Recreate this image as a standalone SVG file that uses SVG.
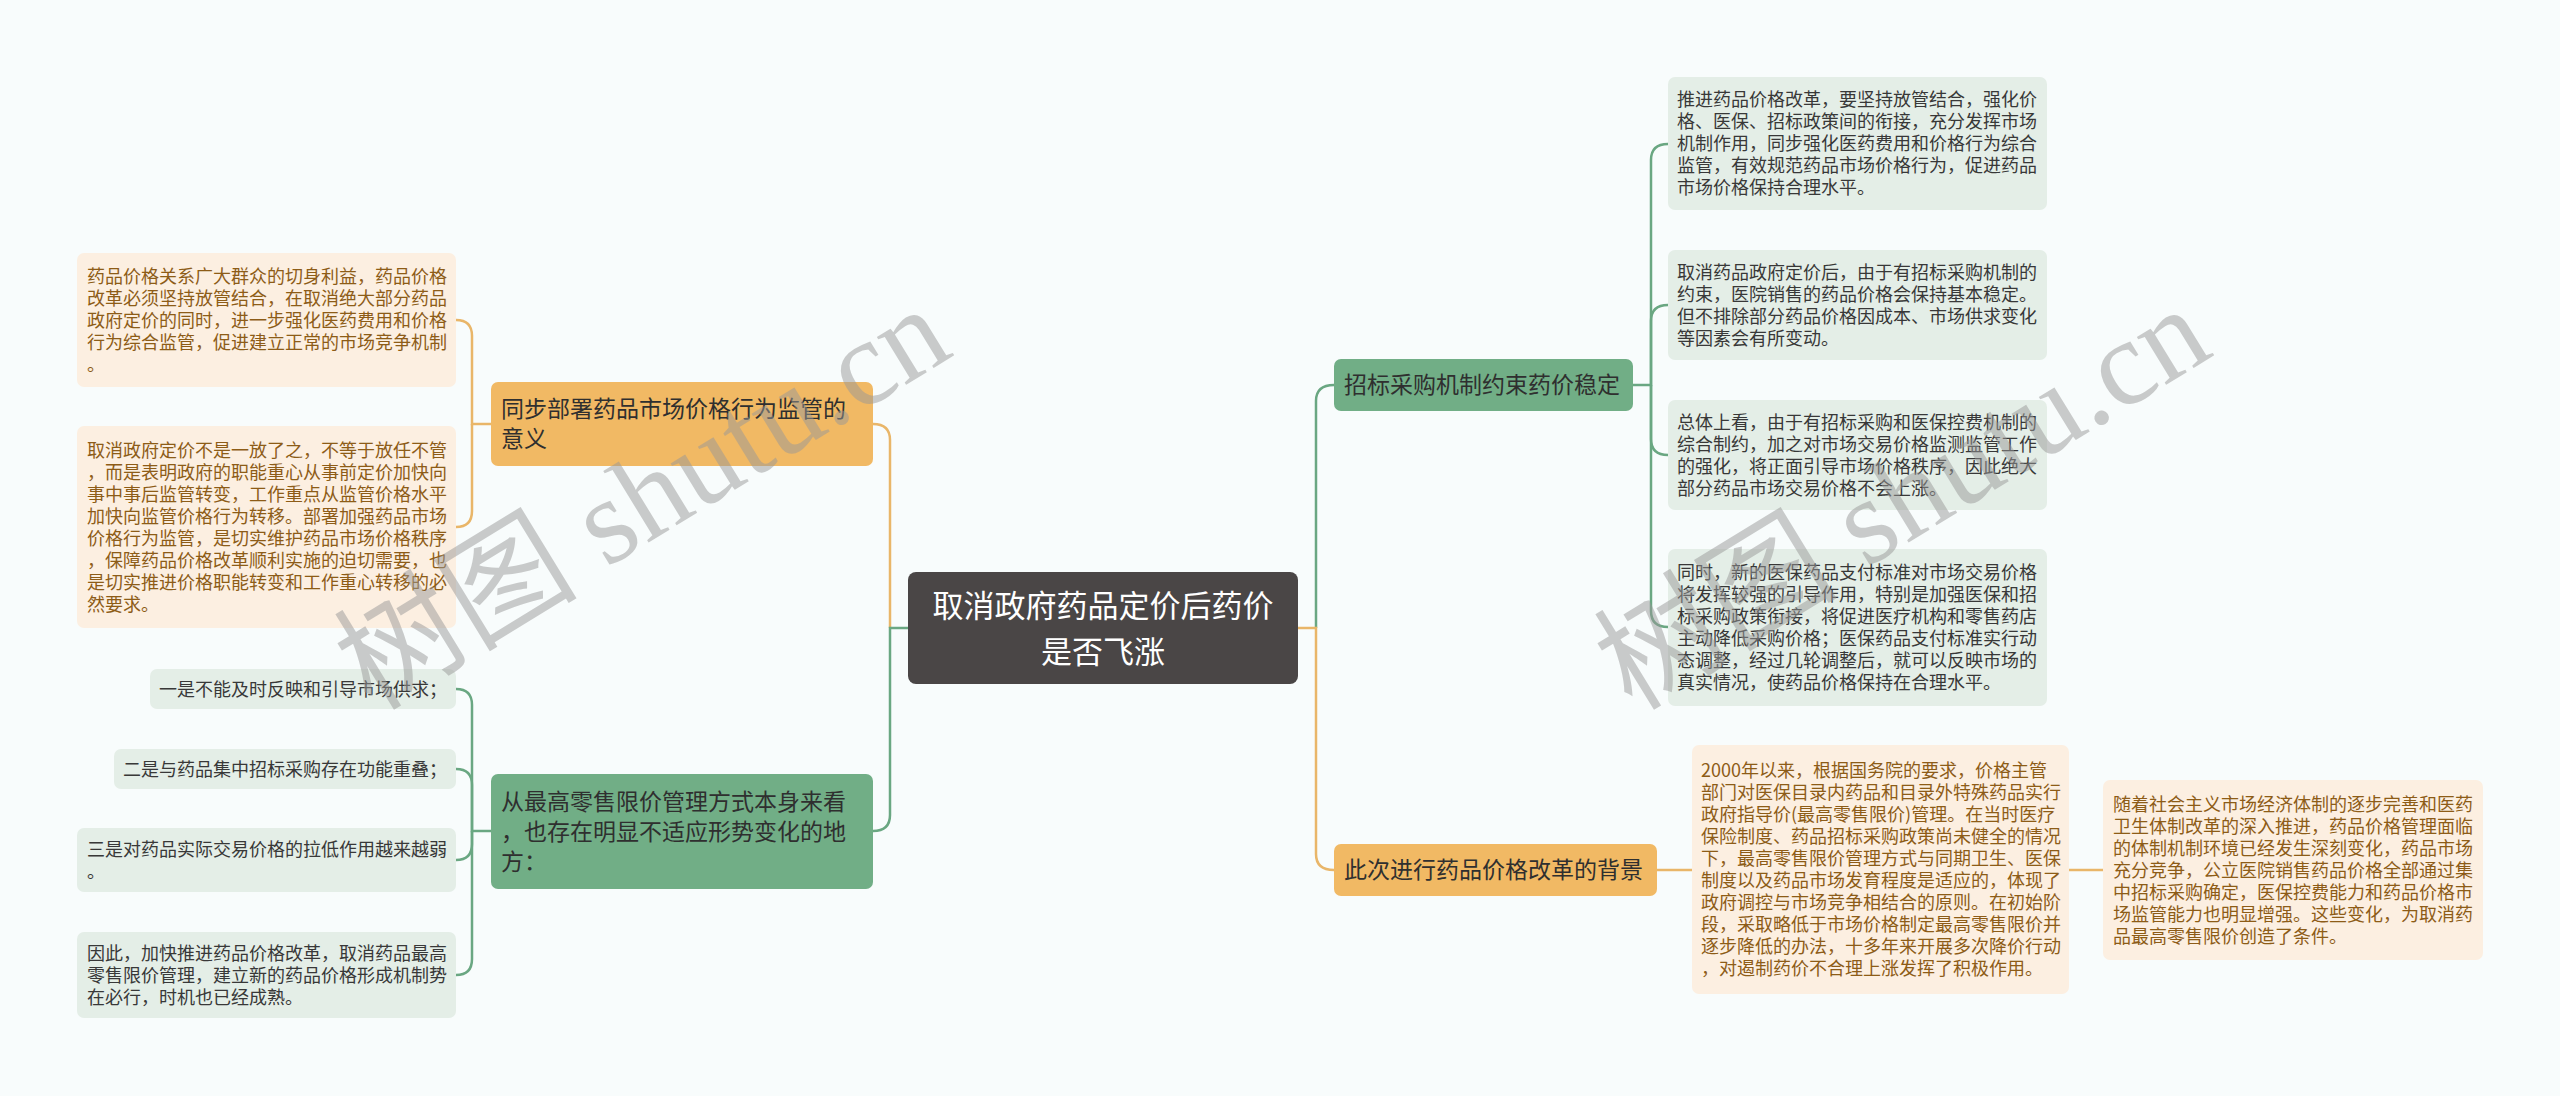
<svg xmlns="http://www.w3.org/2000/svg" width="2560" height="1096" viewBox="0 0 2560 1096">
<style>
.bg{fill:#f8fcfc}
.lo{fill:#fcefe1}
.lg{fill:#e4eee7}
.no{fill:#f1b964}
.ng{fill:#71ae86}
.nc{fill:#4a4646}
.t{font-family:"Noto Sans CJK SC","Noto Sans",sans-serif}
.to{font-size:18px;fill:#8d5c17}
.tg{font-size:18px;fill:#383838}
.tm{font-size:23px;fill:#2f2f2f}
.tc{font-size:31px;fill:#ffffff}
.co{fill:none;stroke:#e9b669;stroke-width:2.5}
.cg{fill:none;stroke:#6aa782;stroke-width:2.5}
.wm{font-family:"Liberation Serif","Noto Sans CJK SC",serif;font-size:122px;fill:#999999;opacity:0.5}
</style>
<rect class="bg" x="0" y="0" width="2560" height="1096"/>
<g id="connectors">
<path class="co" d="M890 628 V440 Q890 424 873 424"/>
<path class="cg" d="M908 628 H890 V815 Q890 831 873 831"/>
<path class="cg" d="M1316 628 V401 Q1316 385 1334 385"/>
<path class="co" d="M1298 628 H1316 V854 Q1316 870 1334 870"/>
<path class="co" d="M491 424 H472 V336 Q472 320 456 320"/>
<path class="co" d="M472 424 V511 Q472 527 456 527"/>
<path class="cg" d="M491 831 H472 V705 Q472 689 456 689"/>
<path class="cg" d="M472 831 V785 Q472 769 456 769"/>
<path class="cg" d="M472 831 V844 Q472 860 456 860"/>
<path class="cg" d="M472 831 V959 Q472 975 456 975"/>
<path class="cg" d="M1633 385 H1651 V160 Q1651 144 1668 144"/>
<path class="cg" d="M1651 385 V321 Q1651 305 1668 305"/>
<path class="cg" d="M1651 385 V439 Q1651 455 1668 455"/>
<path class="cg" d="M1651 385 V611 Q1651 627 1668 627"/>
<path class="co" d="M1657 870 H1692"/>
<path class="co" d="M2069 870 H2103"/>
</g>
<g id="center">
<rect class="nc" x="908" y="572" width="390" height="112" rx="8"/>
<text class="t tc" text-anchor="middle" x="1103" y="617">取消政府药品定价后药价</text>
<text class="t tc" text-anchor="middle" x="1103" y="663">是否飞涨</text>
</g>
<g id="node-left-orange">
<rect class="no" x="491" y="382" width="382" height="84" rx="7"/>
<text class="t tm" x="501" y="417">同步部署药品市场价格行为监管的<tspan x="501" dy="30">意义</tspan></text>
</g>
<g id="node-left-green">
<rect class="ng" x="491" y="774" width="382" height="115" rx="7"/>
<text class="t tm" x="501" y="810">从最高零售限价管理方式本身来看<tspan x="501" dy="30">，也存在明显不适应形势变化的地</tspan><tspan x="501" dy="30">方：</tspan></text>
</g>
<g id="node-right-green">
<rect class="ng" x="1334" y="359" width="299" height="52" rx="7"/>
<text class="t tm" x="1344" y="393">招标采购机制约束药价稳定</text>
</g>
<g id="node-right-orange">
<rect class="no" x="1334" y="844" width="323" height="52" rx="7"/>
<text class="t tm" x="1344" y="878">此次进行药品价格改革的背景</text>
</g>
<g id="leaf-a">
<rect class="lo" x="77" y="253" width="379" height="134" rx="7"/>
<text class="t to" x="87" y="282.5">药品价格关系广大群众的切身利益，药品价格<tspan x="87" dy="22">改革必须坚持放管结合，在取消绝大部分药品</tspan><tspan x="87" dy="22">政府定价的同时，进一步强化医药费用和价格</tspan><tspan x="87" dy="22">行为综合监管，促进建立正常的市场竞争机制</tspan><tspan x="87" dy="22">。</tspan></text>
</g>
<g id="leaf-b">
<rect class="lo" x="77" y="426" width="379" height="202" rx="7"/>
<text class="t to" x="87" y="456.5">取消政府定价不是一放了之，不等于放任不管<tspan x="87" dy="22">，而是表明政府的职能重心从事前定价加快向</tspan><tspan x="87" dy="22">事中事后监管转变，工作重点从监管价格水平</tspan><tspan x="87" dy="22">加快向监管价格行为转移。部署加强药品市场</tspan><tspan x="87" dy="22">价格行为监管，是切实维护药品市场价格秩序</tspan><tspan x="87" dy="22">，保障药品价格改革顺利实施的迫切需要，也</tspan><tspan x="87" dy="22">是切实推进价格职能转变和工作重心转移的必</tspan><tspan x="87" dy="22">然要求。</tspan></text>
</g>
<g id="leaf-c">
<rect class="lg" x="150" y="669" width="306" height="40" rx="7"/>
<text class="t tg" x="159" y="695.5">一是不能及时反映和引导市场供求；</text>
</g>
<g id="leaf-d">
<rect class="lg" x="114" y="749" width="342" height="40" rx="7"/>
<text class="t tg" x="123" y="775.5">二是与药品集中招标采购存在功能重叠；</text>
</g>
<g id="leaf-e">
<rect class="lg" x="77" y="828" width="379" height="64" rx="7"/>
<text class="t tg" x="87" y="855.5">三是对药品实际交易价格的拉低作用越来越弱<tspan x="87" dy="22">。</tspan></text>
</g>
<g id="leaf-f">
<rect class="lg" x="77" y="932" width="379" height="86" rx="7"/>
<text class="t tg" x="87" y="959.5">因此，加快推进药品价格改革，取消药品最高<tspan x="87" dy="22">零售限价管理，建立新的药品价格形成机制势</tspan><tspan x="87" dy="22">在必行，时机也已经成熟。</tspan></text>
</g>
<g id="leaf-r1">
<rect class="lg" x="1668" y="77" width="379" height="133" rx="7"/>
<text class="t tg" x="1677" y="106">推进药品价格改革，要坚持放管结合，强化价<tspan x="1677" dy="22">格、医保、招标政策间的衔接，充分发挥市场</tspan><tspan x="1677" dy="22">机制作用，同步强化医药费用和价格行为综合</tspan><tspan x="1677" dy="22">监管，有效规范药品市场价格行为，促进药品</tspan><tspan x="1677" dy="22">市场价格保持合理水平。</tspan></text>
</g>
<g id="leaf-r2">
<rect class="lg" x="1668" y="250" width="379" height="110" rx="7"/>
<text class="t tg" x="1677" y="278.5">取消药品政府定价后，由于有招标采购机制的<tspan x="1677" dy="22">约束，医院销售的药品价格会保持基本稳定。</tspan><tspan x="1677" dy="22">但不排除部分药品价格因成本、市场供求变化</tspan><tspan x="1677" dy="22">等因素会有所变动。</tspan></text>
</g>
<g id="leaf-r3">
<rect class="lg" x="1668" y="400" width="379" height="110" rx="7"/>
<text class="t tg" x="1677" y="428.5">总体上看，由于有招标采购和医保控费机制的<tspan x="1677" dy="22">综合制约，加之对市场交易价格监测监管工作</tspan><tspan x="1677" dy="22">的强化，将正面引导市场价格秩序，因此绝大</tspan><tspan x="1677" dy="22">部分药品市场交易价格不会上涨。</tspan></text>
</g>
<g id="leaf-r4">
<rect class="lg" x="1668" y="549" width="379" height="157" rx="7"/>
<text class="t tg" x="1677" y="579">同时，新的医保药品支付标准对市场交易价格<tspan x="1677" dy="22">将发挥较强的引导作用，特别是加强医保和招</tspan><tspan x="1677" dy="22">标采购政策衔接，将促进医疗机构和零售药店</tspan><tspan x="1677" dy="22">主动降低采购价格；医保药品支付标准实行动</tspan><tspan x="1677" dy="22">态调整，经过几轮调整后，就可以反映市场的</tspan><tspan x="1677" dy="22">真实情况，使药品价格保持在合理水平。</tspan></text>
</g>
<g id="leaf-b1">
<rect class="lo" x="1692" y="745" width="377" height="249" rx="7"/>
<text class="t to" x="1701" y="777">2000年以来，根据国务院的要求，价格主管<tspan x="1701" dy="22">部门对医保目录内药品和目录外特殊药品实行</tspan><tspan x="1701" dy="22">政府指导价(最高零售限价)管理。在当时医疗</tspan><tspan x="1701" dy="22">保险制度、药品招标采购政策尚未健全的情况</tspan><tspan x="1701" dy="22">下，最高零售限价管理方式与同期卫生、医保</tspan><tspan x="1701" dy="22">制度以及药品市场发育程度是适应的，体现了</tspan><tspan x="1701" dy="22">政府调控与市场竞争相结合的原则。在初始阶</tspan><tspan x="1701" dy="22">段，采取略低于市场价格制定最高零售限价并</tspan><tspan x="1701" dy="22">逐步降低的办法，十多年来开展多次降价行动</tspan><tspan x="1701" dy="22">，对遏制药价不合理上涨发挥了积极作用。</tspan></text>
</g>
<g id="leaf-fr">
<rect class="lo" x="2103" y="780" width="380" height="180" rx="7"/>
<text class="t to" x="2113" y="810.5">随着社会主义市场经济体制的逐步完善和医药<tspan x="2113" dy="22">卫生体制改革的深入推进，药品价格管理面临</tspan><tspan x="2113" dy="22">的体制机制环境已经发生深刻变化，药品市场</tspan><tspan x="2113" dy="22">充分竞争，公立医院销售药品价格全部通过集</tspan><tspan x="2113" dy="22">中招标采购确定，医保控费能力和药品价格市</tspan><tspan x="2113" dy="22">场监管能力也明显增强。这些变化，为取消药</tspan><tspan x="2113" dy="22">品最高零售限价创造了条件。</tspan></text>
</g>
<g id="watermarks">
<text class="wm" transform="translate(372 712) rotate(-31.5)">树图 shutu.cn</text>
<text class="wm" transform="translate(1632 712) rotate(-31.5)">树图 shutu.cn</text>
</g>
</svg>
